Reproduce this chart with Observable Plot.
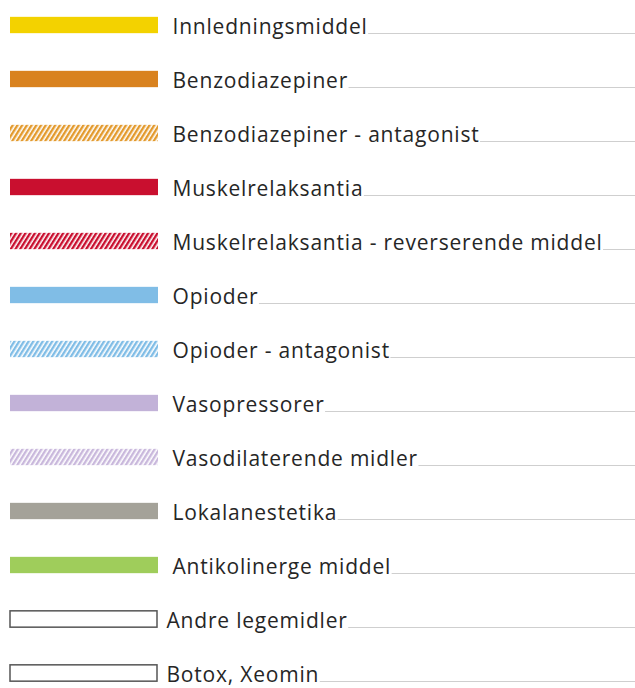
<!DOCTYPE html>
<html><head><meta charset="utf-8">
<script src="https://cdn.jsdelivr.net/npm/d3@7"></script>
<script src="https://cdn.jsdelivr.net/npm/@observablehq/plot@0.6"></script>
<style>body{margin:0;background:#fff}</style>
</head><body><div id="chart"></div>
<script>
const labels = [
  "Innledningsmiddel",
  "Benzodiazepiner",
  "Benzodiazepiner - antagonist",
  "Muskelrelaksantia",
  "Muskelrelaksantia - reverserende middel",
  "Opioder",
  "Opioder - antagonist",
  "Vasopressorer",
  "Vasodilaterende midler",
  "Lokalanestetika",
  "Antikolinerge middel",
  "Andre legemidler",
  "Botox, Xeomin"
];
const colors = [
  "#f3d200", "#d9821f", "#e39a2d", "#c90f2f", "#c90f2f", "#80bde6", "#80bde6",
  "#c2b2d8", "#c9b8dc", "#a4a299", "#9fcd5b", "#ffffff", "#ffffff"
];
const styles = [
  "solid", "solid", "hatch", "solid", "hatch", "solid", "hatch",
  "solid", "hatch", "solid", "solid", "outline", "outline"
];

const W = 635, H = 688;
const FONT_SIZE = 21;
const LETTER_SPACING = 0.8;
const FONT_FAMILY = "'Open Sans', sans-serif";
const ctx = document.createElement("canvas").getContext("2d");
ctx.font = `${FONT_SIZE}px 'Open Sans'`;
const textWidth = s => ctx.measureText(s).width + LETTER_SPACING * s.length;

const data = labels.map((label, i) => ({label, color: colors[i], style: styles[i], id: `hatch-${i}`}));
const textX = d => d.style === "outline" ? 166 : 172;
const fillOf = d => d.style === "solid" ? d.color : d.style === "hatch" ? `url(#${d.id})` : "#ffffff";

const step = 54.67;
const y0 = 21 - step / 2;
const boxH = 17;
const inset = (step - boxH) / 2;

const defsMark = () => {
  const defs = d3.create("svg:defs");
  data.filter(d => d.style === "hatch").forEach(d => {
    const p = defs.append("pattern")
      .attr("id", d.id)
      .attr("patternUnits", "userSpaceOnUse")
      .attr("width", 4).attr("height", 10)
      .attr("patternTransform", "rotate(32)");
    p.append("rect").attr("width", 4).attr("height", 10).attr("fill", "#ffffff");
    p.append("rect").attr("width", 2.4).attr("height", 10).attr("fill", d.color);
  });
  return defs.node();
};

const chart = Plot.plot({
  width: W,
  height: H,
  margin: 0,
  x: {domain: [0, W], range: [0, W], axis: null},
  y: {type: "band", domain: labels, range: [y0, y0 + step * labels.length], padding: 0, axis: null},
  color: {type: "identity"},
  style: {background: "#ffffff"},
  marks: [
    defsMark,
    Plot.ruleY(data, {
      y: "label",
      x1: d => textX(d) + textWidth(d.label) + 1,
      x2: () => W,
      dy: 8,
      stroke: "#cfcfcf",
      strokeWidth: 1
    }),
    Plot.barX(data, {
      y: "label",
      x1: d => 10,
      x2: d => d.style === "outline" ? 157 : 158,
      insetTop: inset,
      insetBottom: inset,
      fill: fillOf,
      stroke: d => d.style === "outline" ? "#555555" : "none",
      strokeWidth: 1.5
    }),
    Plot.text(data, {
      x: textX,
      y: "label",
      text: "label",
      textAnchor: "start",
      lineAnchor: "bottom",
      dy: 8,
      fontSize: FONT_SIZE,
      fontFamily: FONT_FAMILY,
      fill: "#262626"
    })
  ]
});
chart.querySelectorAll("text").forEach(t => t.style.letterSpacing = LETTER_SPACING + "px");
document.getElementById("chart").appendChild(chart);
</script>
</body></html>
